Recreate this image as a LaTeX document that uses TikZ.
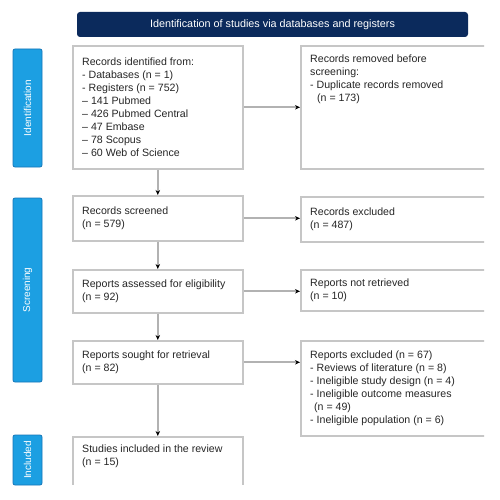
\documentclass[tikz,border=0pt]{standalone}
\usepackage{fontspec}
\setmainfont{Liberation Sans}
\usetikzlibrary{arrows.meta}
\definecolor{navy}{HTML}{0B2A5C}
\definecolor{barblue}{HTML}{1C9FE2}
\definecolor{baredge}{HTML}{1576B8}
\definecolor{boxgrey}{HTML}{C6C6C6}
\tikzset{
  box/.style={draw=boxgrey, line width=1.6pt, fill=white, inner sep=0pt, anchor=north west},
  txt/.style={font=\fontsize{10.6}{13}\selectfont, align=left, inner sep=0pt, text=black!85},
  bar/.style={draw=baredge, line width=0.8pt, fill=barblue, rounded corners=2pt, minimum width=29pt, inner sep=0pt},
  barlabel/.style={font=\fontsize{10}{11}\selectfont, text=white, rotate=90},
  flow/.style={draw=boxgrey!90!black, line width=1.8pt, -{Stealth[length=5pt,width=4.5pt,color=black]}}
}
\begin{document}
\begin{tikzpicture}[x=1pt,y=-1pt]
\useasboundingbox (0,0) rectangle (500,500);
\fill[white] (0,0) rectangle (500,500);
% header
\node[fill=navy, rounded corners=3pt, minimum width=391pt, minimum height=25pt, inner sep=0pt,
      font=\fontsize{10.8}{12}\selectfont, text=white] (head) at (272.5,24.5)
      {Identification of studies via databases and registers};
% phase bars
\node[bar, minimum height=118pt] (bid) at (27.5,108) {};
\node[barlabel] (lid) at (bid.center) {Identification};
\node[bar, minimum height=184pt] (bsc) at (27.5,290) {};
\node[barlabel] (lsc) at (bsc.center) {Screening};
\node[bar, minimum height=50pt] (bin) at (27.5,460) {};
\node[barlabel] (lin) at (bin.center) {Included};
\begin{scope}
\clip (0,0) rectangle (484,484);
% left column boxes
\node[box, minimum width=170pt, minimum height=123pt] (rec) at (72,45) {};
\node[box, minimum width=170pt, minimum height=45pt] (scr) at (72,195) {};
\node[box, minimum width=170pt, minimum height=43pt] (ass) at (72,269) {};
\node[box, minimum width=170pt, minimum height=43pt] (sou) at (72,340) {};
\node[box, minimum width=170pt, minimum height=60pt] (inc) at (72,436) {};
% right column boxes
\node[box, minimum width=200pt, minimum height=123pt] (rem) at (300,45) {};
\node[box, minimum width=200pt, minimum height=45pt] (exc) at (300,196) {};
\node[box, minimum width=200pt, minimum height=41pt] (nre) at (300,269) {};
\node[box, minimum width=200pt, minimum height=95pt] (rex) at (300,340) {};
\end{scope}
% texts
\node[txt, anchor=west] (trec) at ([xshift=10pt]rec.west) {Records identified from:\\
- Databases (n = 1)\\
- Registers (n = 752)\\
-- 141 Pubmed\\
-- 426 Pubmed Central\\
-- 47 Embase\\
-- 78 Scopus\\
-- 60 Web of Science};
\node[txt, anchor=west] (tscr) at ([xshift=10pt]scr.west) {Records screened\\(n = 579)};
\node[txt, anchor=west] (tass) at ([xshift=10pt]ass.west) {Reports assessed for eligibility\\(n = 92)};
\node[txt, anchor=west] (tsou) at ([xshift=10pt]sou.west) {Reports sought for retrieval\\(n = 82)};
\node[txt, anchor=north west] (tinc) at (82,445) {Studies included in the review\\(n = 15)};
\node[txt, anchor=north west] (trem) at (310,55) {Records removed before\\screening:\\- Duplicate records removed\\\hspace*{7pt}(n = 173)};
\node[txt, anchor=west] (texc) at ([xshift=10pt]exc.west) {Records excluded\\(n = 487)};
\node[txt, anchor=west] (tnre) at ([xshift=10pt]nre.west) {Reports not retrieved\\(n = 10)};
\node[txt, anchor=west] (trex) at ([xshift=10pt]rex.west) {Reports excluded (n = 67)\\
- Reviews of literature (n = 8)\\
- Ineligible study design (n = 4)\\
- Ineligible outcome measures\\
\hspace*{4pt}(n = 49)\\
- Ineligible population (n = 6)};
% connectors
\draw[flow] (rec.south) -- (scr.north);
\draw[flow] (scr.south) -- (ass.north);
\draw[flow] (ass.south) -- (sou.north);
\draw[flow] (sou.south) -- (inc.north);
\draw[flow] (rec.east) -- (rec.east -| rem.west);
\draw[flow] (scr.east) -- (scr.east -| exc.west);
\draw[flow] (ass.east) -- (ass.east -| nre.west);
\draw[flow] (sou.east) -- (sou.east -| rex.west);
\end{tikzpicture}
\end{document}
